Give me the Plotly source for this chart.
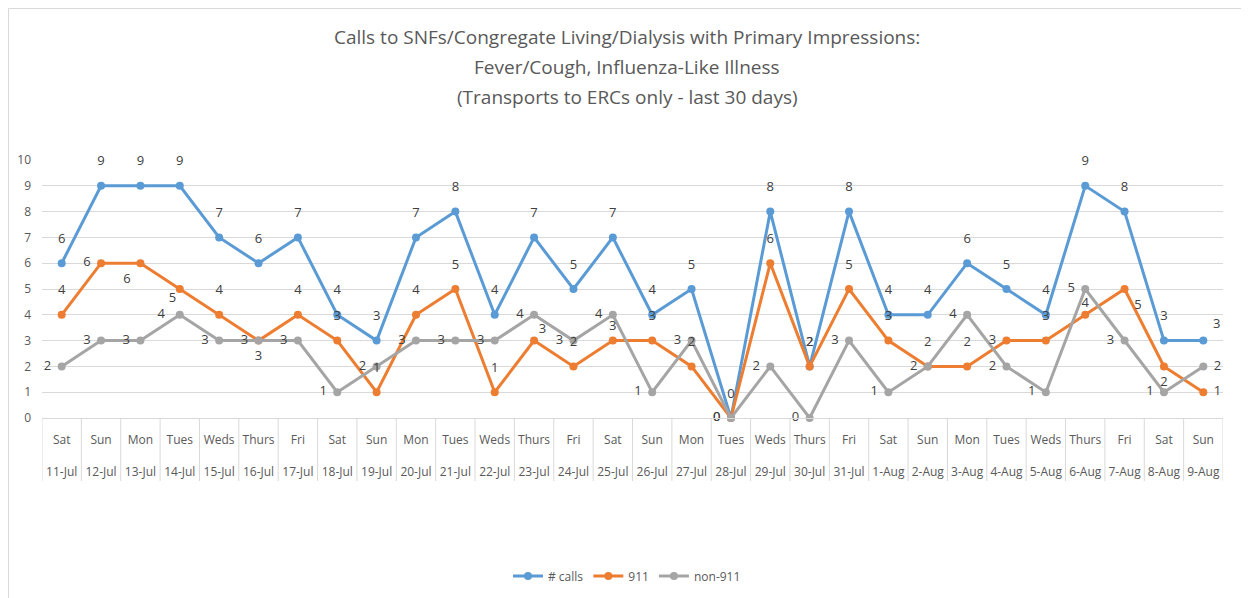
import plotly.graph_objects as go

# ---- data ----
dates = ["11-Jul", "12-Jul", "13-Jul", "14-Jul", "15-Jul", "16-Jul", "17-Jul", "18-Jul", "19-Jul", "20-Jul",
         "21-Jul", "22-Jul", "23-Jul", "24-Jul", "25-Jul", "26-Jul", "27-Jul", "28-Jul", "29-Jul", "30-Jul",
         "31-Jul", "1-Aug", "2-Aug", "3-Aug", "4-Aug", "5-Aug", "6-Aug", "7-Aug", "8-Aug", "9-Aug"]
days = ["Sat", "Sun", "Mon", "Tues", "Weds", "Thurs", "Fri", "Sat", "Sun", "Mon",
        "Tues", "Weds", "Thurs", "Fri", "Sat", "Sun", "Mon", "Tues", "Weds", "Thurs",
        "Fri", "Sat", "Sun", "Mon", "Tues", "Weds", "Thurs", "Fri", "Sat", "Sun"]
calls = [6, 9, 9, 9, 7, 6, 7, 4, 3, 7, 8, 4, 7, 5, 7, 4, 5, 0, 8, 2, 8, 4, 4, 6, 5, 4, 9, 8, 3, 3]
calls_911 = [4, 6, 6, 5, 4, 3, 4, 3, 1, 4, 5, 1, 3, 2, 3, 3, 2, 0, 6, 2, 5, 3, 2, 2, 3, 3, 4, 5, 2, 1]
calls_non911 = [2, 3, 3, 4, 3, 3, 3, 1, 2, 3, 3, 3, 4, 3, 4, 1, 3, 0, 2, 0, 3, 1, 2, 4, 2, 1, 5, 3, 1, 2]
y_ticks = list(range(0, 11))

title_lines = ["Calls to SNFs/Congregate Living/Dialysis with Primary Impressions:",
               "Fever/Cough, Influenza-Like Illness",
               "(Transports to ERCs only - last 30 days)"]

# ---- label placement (style) ----
def positions(default, exceptions):
    return [exceptions.get(d, default) for d in dates]

pos_calls = positions("top center", {"9-Aug": "top right"})
pos_911 = positions("top center", {"12-Jul": "middle left", "13-Jul": "bottom left", "14-Jul": "bottom left",
                                   "16-Jul": "middle left", "23-Jul": "top right", "28-Jul": "middle left",
                                   "4-Aug": "middle left", "7-Aug": "bottom right", "8-Aug": "bottom center",
                                   "9-Aug": "middle right"})
pos_non911 = positions("middle left", {"16-Jul": "bottom center", "9-Aug": "middle right"})

def offset_sizes(pos, overrides=None):
    overrides = overrides or {}
    out = []
    for d, p in zip(dates, pos):
        if d in overrides:
            out.append(overrides[d])
        elif p == "top center":
            out.append(26)
        elif p.startswith("middle"):
            out.append(15)
        else:
            out.append(14)
    return out

size_calls = offset_sizes(pos_calls)
size_911 = offset_sizes(pos_911, {"14-Jul": 4, "23-Jul": 6, "25-Jul": 10, "6-Aug": 6})
size_non911 = offset_sizes(pos_non911, {"14-Jul": 22})

FONT = "Open Sans, Noto Sans, sans-serif"
tick_text = [f"{d}<br><br>{dt}" for d, dt in zip(days, dates)]

OFF = 8  # page body margin
PLOT_L, PLOT_R, PLOT_T, PLOT_B = 42 - OFF, 1223 - OFF, 160 - OFF, 418 - OFF
PW, PH = PLOT_R - PLOT_L, PLOT_B - PLOT_T

def py(page_y):
    return (PLOT_B - (page_y - OFF)) / PH

def px(page_x):
    return (page_x - OFF - PLOT_L) / PW

fig = go.Figure()
series = [("# calls", calls, "#5B9BD5", pos_calls, size_calls),
          ("911", calls_911, "#ED7D31", pos_911, size_911),
          ("non-911", calls_non911, "#A5A5A5", pos_non911, size_non911)]
for name, vals, color, pos, sz in series:
    fig.add_trace(go.Scatter(
        x=dates, y=vals, name=name, mode="lines+markers",
        line=dict(color=color, width=3), marker=dict(color=color, size=8),
        cliponaxis=False,
    ))
for name, vals, color, pos, sz in series:
    fig.add_trace(go.Scatter(
        x=dates, y=vals, name=name + " labels", mode="markers+text", showlegend=False, hoverinfo="skip",
        text=[str(v) for v in vals], textposition=pos,
        textfont=dict(family=FONT, size=13, color="#404040"),
        marker=dict(size=sz, opacity=0, color=color),
        cliponaxis=False,
    ))

for i, line in enumerate(title_lines):
    fig.add_annotation(text=line, xref="paper", yref="paper", x=px(627), xanchor="center",
                       y=py(37 + 30 * i), yanchor="middle", showarrow=False,
                       font=dict(family=FONT, size=19, color="#595959"))

# category dividers below the axis
for i in range(len(dates) + 1):
    fig.add_shape(type="line", xref="x", yref="paper", x0=i - 0.5, x1=i - 0.5,
                  y0=0, y1=py(481), line=dict(color="#D9D9D9", width=1))

fig.add_shape(type="rect", xref="paper", yref="paper", x0=(0.5 - PLOT_L) / PW, x1=1.1,
              y0=-1.0, y1=(PLOT_B - 0.5) / PH, line=dict(color="#D9D9D9", width=1), layer="below")

fig.update_layout(
    width=1249, height=598,
    margin=dict(l=PLOT_L, r=1249 - PLOT_R, t=PLOT_T, b=598 - PLOT_B, autoexpand=False),
    paper_bgcolor="white", plot_bgcolor="white",
    font=dict(family=FONT, color="#595959"),
    showlegend=True,
    legend=dict(orientation="h", x=px(627), xanchor="center", y=py(576),
                yanchor="middle", font=dict(family=FONT, size=12, color="#595959"), traceorder="normal"),
)
fig.update_xaxes(type="category", range=[-0.5, len(dates) - 0.5], autorange=False,
                 tickmode="array", tickvals=dates, ticktext=tick_text,
                 showgrid=False, showline=True, linecolor="#D9D9D9", tickangle=0, automargin=False,
                 tickfont=dict(family=FONT, size=12, color="#595959"), ticks="", ticklabelstandoff=11)
fig.update_yaxes(range=[0, 10], tickvals=y_ticks, showgrid=True, gridcolor="#D9D9D9", automargin=False,
                 zeroline=False, showline=False, tickfont=dict(family=FONT, size=12, color="#595959"),
                 ticklabelstandoff=10)

fig.write_html("out.html")
